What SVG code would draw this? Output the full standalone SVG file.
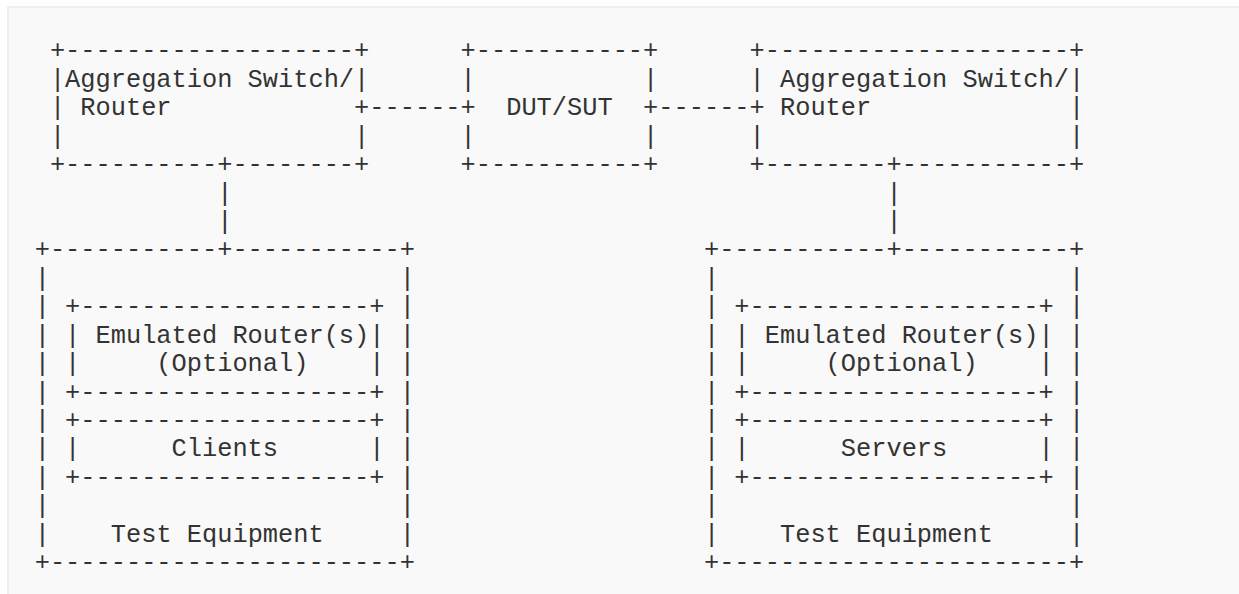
<svg xmlns="http://www.w3.org/2000/svg" width="1239" height="594" viewBox="0 0 1239 594" xml:space="preserve">
<style>
text { font-family: "Liberation Mono", "DejaVu Sans Mono", monospace; font-size: 25.35px; fill: #333333; white-space: pre; }
.bg { fill: #f9f9f9; stroke: #eeeeee; stroke-width: 2; }
</style>
<rect class="bg" x="8" y="7" width="1260" height="620"/>
<g id="connectors">
<text><tspan x="369.32" y="115.18">------</tspan><tspan x="658.31" y="115.18">------</tspan><tspan x="217.22" y="200.5">|</tspan><tspan x="217.22" y="228.94">|</tspan><tspan x="886.46" y="200.5">|</tspan><tspan x="886.46" y="228.94">|</tspan></text>
</g>
<g id="switch-left">
<text><tspan x="49.91" y="58.3">+-------------------+</tspan><tspan x="49.91" y="86.74">|Aggregation Switch/|</tspan><tspan x="49.91" y="115.18">| Router            +</tspan><tspan x="49.91" y="143.62">|                   |</tspan><tspan x="49.91" y="172.06">+----------+--------+</tspan></text>
</g>
<g id="dut">
<text><tspan x="460.58" y="58.3">+-----------+</tspan><tspan x="460.58" y="86.74">|           |</tspan><tspan x="460.58" y="115.18">+  DUT/SUT  +</tspan><tspan x="460.58" y="143.62">|           |</tspan><tspan x="460.58" y="172.06">+-----------+</tspan></text>
</g>
<g id="switch-right">
<text><tspan x="749.57" y="58.3">+--------------------+</tspan><tspan x="749.57" y="86.74">| Aggregation Switch/|</tspan><tspan x="749.57" y="115.18">+ Router             |</tspan><tspan x="749.57" y="143.62">|                    |</tspan><tspan x="749.57" y="172.06">+--------+-----------+</tspan></text>
</g>
<g id="test-equipment-left">
<text><tspan x="34.7" y="257.38">+-----------+-----------+</tspan><tspan x="34.7" y="570.22">+-----------------------+</tspan></text>
<text><tspan x="34.7" y="285.82">|</tspan><tspan x="34.7" y="314.26">|</tspan><tspan x="34.7" y="342.7">|</tspan><tspan x="34.7" y="371.14">|</tspan><tspan x="34.7" y="399.58">|</tspan><tspan x="34.7" y="428.02">|</tspan><tspan x="34.7" y="456.46">|</tspan><tspan x="34.7" y="484.9">|</tspan><tspan x="34.7" y="513.34">|</tspan><tspan x="34.7" y="541.78">|</tspan></text>
<text><tspan x="399.74" y="285.82">|</tspan><tspan x="399.74" y="314.26">|</tspan><tspan x="399.74" y="342.7">|</tspan><tspan x="399.74" y="371.14">|</tspan><tspan x="399.74" y="399.58">|</tspan><tspan x="399.74" y="428.02">|</tspan><tspan x="399.74" y="456.46">|</tspan><tspan x="399.74" y="484.9">|</tspan><tspan x="399.74" y="513.34">|</tspan><tspan x="399.74" y="541.78">|</tspan></text>
<text x="110.75" y="541.78">Test Equipment</text>
<g id="emulated-router-left">
<text><tspan x="65.12" y="314.26">+-------------------+</tspan><tspan x="65.12" y="342.7">| Emulated Router(s)|</tspan><tspan x="65.12" y="371.14">|     (Optional)    |</tspan><tspan x="65.12" y="399.58">+-------------------+</tspan></text>
</g>
<g id="clients">
<text><tspan x="65.12" y="428.02">+-------------------+</tspan><tspan x="65.12" y="456.46">|      Clients      |</tspan><tspan x="65.12" y="484.9">+-------------------+</tspan></text>
</g>
</g>
<g id="test-equipment-right">
<text><tspan x="703.94" y="257.38">+-----------+-----------+</tspan><tspan x="703.94" y="570.22">+-----------------------+</tspan></text>
<text><tspan x="703.94" y="285.82">|</tspan><tspan x="703.94" y="314.26">|</tspan><tspan x="703.94" y="342.7">|</tspan><tspan x="703.94" y="371.14">|</tspan><tspan x="703.94" y="399.58">|</tspan><tspan x="703.94" y="428.02">|</tspan><tspan x="703.94" y="456.46">|</tspan><tspan x="703.94" y="484.9">|</tspan><tspan x="703.94" y="513.34">|</tspan><tspan x="703.94" y="541.78">|</tspan></text>
<text><tspan x="1068.98" y="285.82">|</tspan><tspan x="1068.98" y="314.26">|</tspan><tspan x="1068.98" y="342.7">|</tspan><tspan x="1068.98" y="371.14">|</tspan><tspan x="1068.98" y="399.58">|</tspan><tspan x="1068.98" y="428.02">|</tspan><tspan x="1068.98" y="456.46">|</tspan><tspan x="1068.98" y="484.9">|</tspan><tspan x="1068.98" y="513.34">|</tspan><tspan x="1068.98" y="541.78">|</tspan></text>
<text x="779.99" y="541.78">Test Equipment</text>
<g id="emulated-router-right">
<text><tspan x="734.36" y="314.26">+-------------------+</tspan><tspan x="734.36" y="342.7">| Emulated Router(s)|</tspan><tspan x="734.36" y="371.14">|     (Optional)    |</tspan><tspan x="734.36" y="399.58">+-------------------+</tspan></text>
</g>
<g id="servers">
<text><tspan x="734.36" y="428.02">+-------------------+</tspan><tspan x="734.36" y="456.46">|      Servers      |</tspan><tspan x="734.36" y="484.9">+-------------------+</tspan></text>
</g>
</g>
</svg>
